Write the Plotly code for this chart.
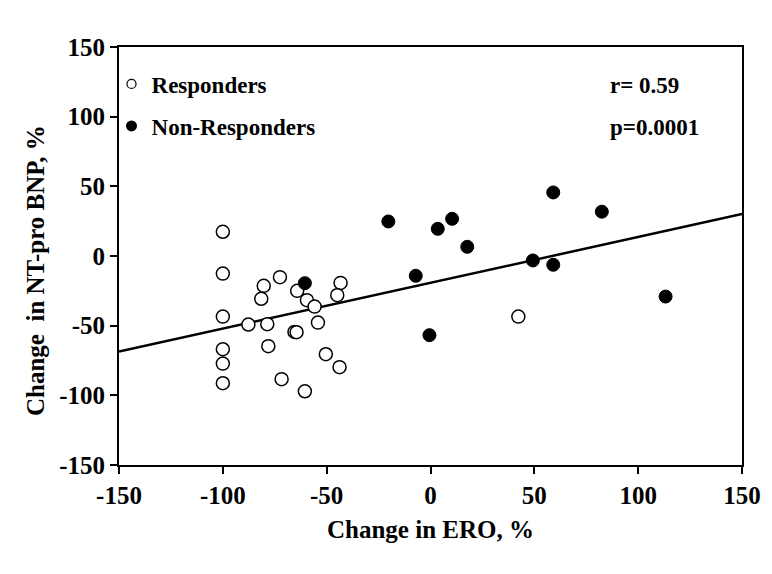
import plotly.graph_objects as go

# Responders (open circles)
resp_x = [-100, -100, -72.5, -80.3, -81.5, -43.3, -64.2, -44.9, -59.5, -55.8, -100, -87.7, -78.6,
          -54.2, -65.5, -64.5, -78.1, -100, -100, -50.4, -43.8, -71.7, -100, -60.5, 42.3]
resp_y = [17.4, -12.6, -15.2, -21.4, -30.7, -19.3, -25.0, -28.1, -31.7, -36.3, -43.5, -49.2, -48.9,
          -47.8, -54.5, -54.7, -64.7, -66.9, -77.2, -70.5, -79.8, -88.4, -91.3, -97.1, -43.5]

# Non-responders (filled circles)
nonresp_x = [-60.5, -20.3, 3.5, 10.4, 17.7, -7.1, 49.3, 59.1, 59.1, -0.5, 82.5, 113.2]
nonresp_y = [-19.5, 24.8, 19.5, 26.7, 6.6, -14.2, -3.2, -6.3, 45.6, -56.8, 31.8, -29.1]

# Regression line end points
fit_x = [-150, 150]
fit_y = [-68.6, 30.1]

ticks = [-150, -100, -50, 0, 50, 100, 150]
tick_labels = ["-150", "-100", "-50", "0", "50", "100", "150"]
stats_text = ["r= 0.59", "p=0.0001"]

FONT = "Liberation Serif"

fig = go.Figure()
fig.add_trace(go.Scatter(x=fit_x, y=fit_y, mode="lines",
                         line=dict(color="black", width=2.5), showlegend=False, hoverinfo="skip"))
fig.add_trace(go.Scatter(x=resp_x, y=resp_y, mode="markers",
                         marker=dict(size=13, color="white", line=dict(color="black", width=1.5)),
                         showlegend=False))
fig.add_trace(go.Scatter(x=nonresp_x, y=nonresp_y, mode="markers",
                         marker=dict(size=13, color="black", line=dict(color="black", width=1)),
                         showlegend=False))
# legend entries
fig.add_trace(go.Scatter(x=[None], y=[None], mode="markers", name="Responders",
                         marker=dict(size=9, color="white", line=dict(color="black", width=1.2)),
                         legend="legend"))
fig.add_trace(go.Scatter(x=[None], y=[None], mode="markers", name="Non-Responders",
                         marker=dict(size=11, color="black"),
                         legend="legend2"))

legend_common = dict(font=dict(family=FONT, size=23, color="black", weight="bold"),
                     bgcolor="rgba(0,0,0,0)", itemwidth=30, xanchor="left", yanchor="middle")
fig.update_layout(
    legend=dict(x=-0.012, y=(84 - 47) / -418 + 1, **legend_common),
    legend2=dict(x=-0.012, y=(126 - 47) / -418 + 1, **legend_common),
)

fig.add_annotation(x=150 - (742 - 608) / 2.077, y=150 - (85 - 47) / 1.392, xref="x", yref="y",
                   text=stats_text[0], showarrow=False, xanchor="left",
                   font=dict(family=FONT, size=23, color="black", weight="bold"))
fig.add_annotation(x=150 - (742 - 608) / 2.077, y=150 - (127 - 47) / 1.392, xref="x", yref="y",
                   text=stats_text[1], showarrow=False, xanchor="left",
                   font=dict(family=FONT, size=23, color="black", weight="bold"))
# y-axis title (placed slightly below centre as in the reference)
fig.add_annotation(x=(35 - 119) / 623, y=1 - (271 - 47) / 418, xref="paper", yref="paper",
                   text="Change  in NT-pro BNP, %", showarrow=False, textangle=-90,
                   xanchor="center", yanchor="middle",
                   font=dict(family=FONT, size=25, color="black", weight="bold"))

axis_common = dict(showline=True, linecolor="black", linewidth=2, mirror=True,
                   ticks="outside", ticklen=7, tickwidth=1.5, tickcolor="black",
                   showgrid=False, zeroline=False, tickvals=ticks, ticktext=tick_labels,
                   automargin=False,
                   tickfont=dict(family=FONT, size=25, color="black", weight="bold"))
fig.update_xaxes(range=[-150, 150], title=dict(text="Change in ERO, %", standoff=12,
                 font=dict(family=FONT, size=25, color="black", weight="bold")), **axis_common)
fig.update_yaxes(range=[-150, 150], **axis_common)

fig.update_layout(width=772, height=574, plot_bgcolor="white", paper_bgcolor="white",
                  margin=dict(l=119, r=30, t=47, b=109))
fig.write_html("out.html", config={"displayModeBar": False},
               post_script="document.body.style.margin='0';")
